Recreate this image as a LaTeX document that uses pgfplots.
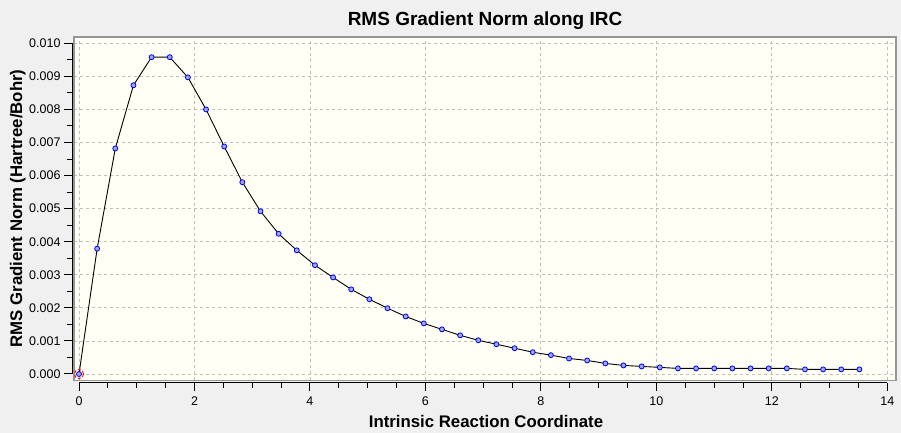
\documentclass[border=0pt]{standalone}
\usepackage{fontspec}
\setmainfont{Liberation Sans}
\usepackage{pgfplots}
\pgfplotsset{compat=1.18}
\definecolor{bgcol}{RGB}{240,240,240}
\definecolor{plotbg}{RGB}{255,255,245}
\definecolor{gridcol}{RGB}{190,190,190}
\definecolor{framecol}{RGB}{150,150,150}
\definecolor{markfill}{RGB}{160,170,215}
\pgfplotstableread{
x y
0.0000 0.00000
0.3144 0.00379
0.6288 0.00682
0.9432 0.00873
1.2576 0.00958
1.5720 0.00958
1.8864 0.00897
2.2008 0.00800
2.5152 0.00688
2.8296 0.00580
3.1440 0.00492
3.4584 0.00424
3.7728 0.00374
4.0872 0.00329
4.4016 0.00292
4.7160 0.00256
5.0304 0.00226
5.3448 0.00199
5.6592 0.00174
5.9736 0.00153
6.2880 0.00135
6.6024 0.00117
6.9168 0.00102
7.2312 0.00090
7.5456 0.00078
7.8600 0.00066
8.1744 0.00057
8.4888 0.00047
8.8032 0.00041
9.1176 0.00032
9.4320 0.00026
9.7464 0.00023
10.0608 0.00020
10.3752 0.00017
10.6896 0.00017
11.0040 0.00017
11.3184 0.00017
11.6328 0.00017
11.9472 0.00017
12.2616 0.00017
12.5760 0.00014
12.8904 0.00014
13.2048 0.00014
13.5192 0.00014
}\irc
\pgfplotsset{
  myticks/.style={
    axis line style={black, line width=1pt, -},
    tick align=outside, major tick length=8pt, minor tick length=5pt,
    tick style={black, line width=1pt},
    scaled y ticks=false,
    ticklabel style={font=\fontsize{12.5}{14}\selectfont},
    /pgf/number format/assume math mode=true,
  }
}
\begin{document}
\begin{tikzpicture}
\path[fill=bgcol,use as bounding box] (0pt,0pt) rectangle (901pt,433pt);
\begin{axis}[
  at={(74pt,52.7pt)}, anchor=south west, scale only axis,
  width=822pt, height=343.3pt,
  xmin=-0.0866, xmax=14.153, ymin=-0.00019, ymax=0.01019,
  axis background/.style={fill=plotbg},
  axis line style={framecol, line width=1.4pt},
  xtick={0,2,4,6,8,10,12,14},
  ytick={0,0.001,0.002,0.003,0.004,0.005,0.006,0.007,0.008,0.009,0.010},
  xticklabels={}, yticklabels={}, major tick length=0pt,
  scaled y ticks=false,
  grid=major,
  major grid style={gridcol, dash pattern=on 3pt off 3pt, line width=0.8pt},
]
\addplot[only marks, mark=o, mark size=4.6pt, mark options={draw=red, densely dashed, line width=0.9pt}] coordinates {(0,0)};
\addplot[black, line width=0.9pt, mark=*, mark size=2.5pt, mark options={solid, draw=blue, fill=markfill, line width=0.8pt}] table[x=x,y=y] {\irc};
\end{axis}
% x axis line with ticks
\begin{axis}[
  myticks,
  at={(79pt,50.3pt)}, anchor=south west, scale only axis,
  width=808.36pt, height=339.4pt,
  xmin=0, xmax=14, ymin=-0.000263, ymax=0.01,
  axis x line*=bottom, axis y line=none, ytick=\empty,
  xtick={0,2,4,6,8,10,12,14},
  minor x tick num=3,
  xticklabel style={yshift=-3pt},
]
\end{axis}
% y axis line with ticks
\begin{axis}[
  myticks,
  at={(72pt,59pt)}, anchor=south west, scale only axis,
  width=815.36pt, height=330.7pt,
  xmin=-0.1212, xmax=14, ymin=0, ymax=0.01,
  axis y line*=left, axis x line=none, xtick=\empty,
  ytick={0,0.001,0.002,0.003,0.004,0.005,0.006,0.007,0.008,0.009,0.010},
  minor y tick num=1,
  yticklabel style={/pgf/number format/.cd, fixed, fixed zerofill, precision=3},
]
\end{axis}
\node[anchor=base, font=\fontsize{19}{22}\selectfont\bfseries] at (485pt,407pt) {RMS Gradient Norm along IRC};
\node[anchor=base, font=\fontsize{16.8}{20}\selectfont\bfseries] at (486pt,5.7pt) {Intrinsic Reaction Coordinate};
\node[anchor=base, rotate=90, font=\fontsize{16.8}{20}\selectfont\bfseries] at (22pt,224.5pt) {RMS Gradient Norm (Hartree/Bohr)};
\end{tikzpicture}
\end{document}
